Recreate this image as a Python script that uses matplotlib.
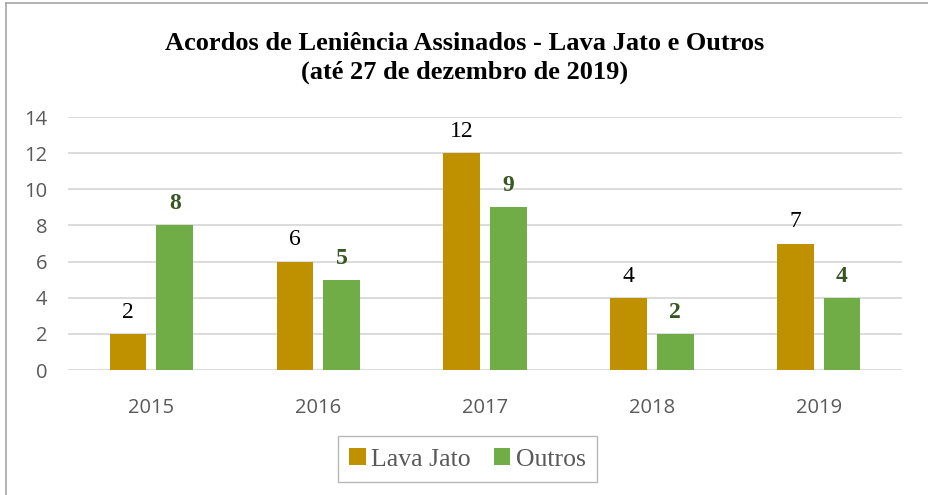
import matplotlib.pyplot as plt
import numpy as np

anos = ["2015", "2016", "2017", "2018", "2019"]
lava_jato = [2, 6, 12, 4, 7]
outros = [8, 5, 9, 2, 4]

COR_LAVA = "#BF9000"
COR_OUTROS = "#70AD47"

fig = plt.figure(figsize=(9.29, 4.95), dpi=100)
ax = fig.add_axes([0.0732, 0.2525, 0.8978, 0.5111])

x = np.arange(len(anos))
larg = 0.22
b1 = ax.bar(x - 0.14, lava_jato, larg, color=COR_LAVA, label="Lava Jato", zorder=3)
b2 = ax.bar(x + 0.14, outros, larg, color=COR_OUTROS, label="Outros", zorder=3)

ax.bar_label(b1, padding=8, fontsize=17, family="Liberation Serif", color="black")
ax.bar_label(b2, padding=8, fontsize=17, family="Liberation Serif", fontweight="bold", color="#375623")

ax.set_xlim(-0.5, len(anos) - 0.5)
ax.set_ylim(0, 14)
ax.set_yticks(range(0, 15, 2))
ax.set_xticks(x)
ax.set_xticklabels(anos)
ax.grid(axis="y", color="#D9D9D9", linewidth=1.3, zorder=0)
for s in ax.spines.values():
    s.set_visible(False)
ax.tick_params(length=0, labelsize=14.5, labelcolor="#595959")
for t in ax.get_xticklabels() + ax.get_yticklabels():
    t.set_family("Open Sans")
ax.tick_params(axis="y", pad=15)
ax.tick_params(axis="x", pad=20)

fig.text(0.5, 0.912, "Acordos de Leniência Assinados - Lava Jato e Outros",
         ha="center", va="center", fontsize=19, fontweight="bold", family="Liberation Serif")
fig.text(0.5, 0.853, "(até 27 de dezembro de 2019)",
         ha="center", va="center", fontsize=19, fontweight="bold", family="Liberation Serif")

leg = fig.legend(loc="center", bbox_to_anchor=(0.503, 0.072), ncol=2, frameon=True,
                 fancybox=False, edgecolor="#A6A6A6", prop={"family": "Liberation Serif", "size": 18.5},
                 handlelength=0.65, handleheight=0.65, handletextpad=0.2, columnspacing=0.9,
                 borderpad=0.45, borderaxespad=0)
for t in leg.get_texts():
    t.set_color("#595959")

# borda externa
fig.add_artist(plt.Line2D([0.006, 0.006], [0, 0.994], color="#A6A6A6", linewidth=1.2))
fig.add_artist(plt.Line2D([0.006, 1], [0.994, 0.994], color="#A6A6A6", linewidth=1.2))

fig.savefig("out.png", dpi=100)
